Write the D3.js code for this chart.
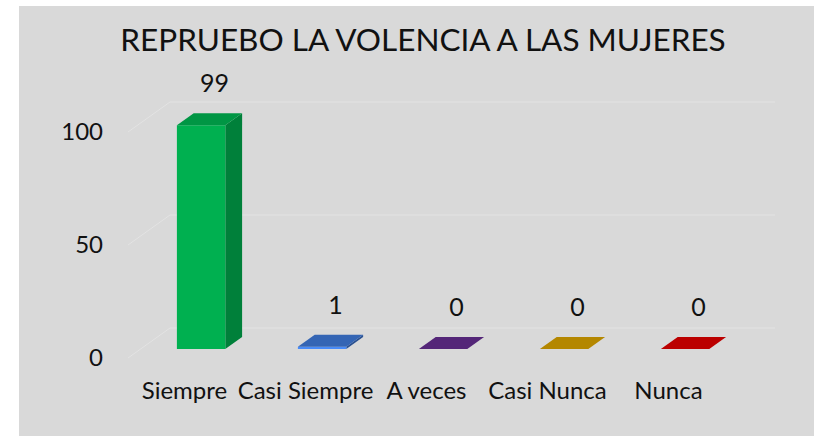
<html>

<head>
    <script src="https://d3js.org/d3.v7.min.js"></script>
    <style>
        body { margin: 0; background: #fff; }
        text { font-family: Lato, "Noto Sans", sans-serif; fill: #111; }
    </style>
</head>

<body>
    <svg id="chart" width="814" height="436"></svg>
    <script>
        var categories = ["Siempre", "Casi Siempre", "A veces", "Casi Nunca", "Nunca"];
        var values = [99, 1, 0, 0, 0];
        var colors = ["#00b050", "#3a70c8", "#5e2a86", "#c89600", "#d00000"];
        var yTicks = [0, 50, 100];
        var title = "REPRUEBO LA VOLENCIA A LAS MUJERES";

        var svg = d3.select("#chart");

        // depth of the 3d box and where the bars sit inside it
        var DX = 42, DY = -30;
        var t0 = 0.3, t1 = 0.7;

        svg.append("rect")
            .attr("x", 19).attr("y", 6)
            .attr("width", 795).attr("height", 430)
            .attr("fill", "#d9d9d9");

        var x = d3.scaleBand()
            .domain(categories)
            .range([128, 733])
            .paddingInner(0.6)
            .paddingOuter(0.3);

        var y = d3.scaleLinear()
            .domain([0, 100])
            .range([358, 132]);

        // gridlines on back wall + slanted floor edge
        var grid = svg.append("g");
        yTicks.forEach(function (v) {
            grid.append("line")
                .attr("x1", 128).attr("y1", y(v))
                .attr("x2", 128 + DX).attr("y2", y(v) + DY)
                .attr("stroke", "#e3e3e3").attr("stroke-width", 1);
            grid.append("line")
                .attr("x1", 128 + DX).attr("y1", y(v) + DY)
                .attr("x2", 775).attr("y2", y(v) + DY)
                .attr("stroke", "#e3e3e3").attr("stroke-width", 1);
        });

        // y axis labels
        svg.append("g").selectAll("text")
            .data(yTicks)
            .enter()
            .append("text")
            .attr("x", 103)
            .attr("y", (d) => y(d) + 2)
            .attr("text-anchor", "end")
            .attr("dominant-baseline", "middle")
            .style("font-size", "24px")
            .text((d) => d);

        function pts(arr) {
            return arr.map((p) => p[0].toFixed(1) + "," + p[1].toFixed(1)).join(" ");
        }

        var fx = DX * t0, fy = DY * t0;
        var bx = DX * (t1 - t0), by = DY * (t1 - t0);

        var bars = svg.append("g");
        categories.forEach(function (c, i) {
            var v = values[i];
            var x0 = x(c) + fx, x1 = x0 + x.bandwidth();
            var yb = y(0) + fy, yt = y(v) + fy;
            var base = d3.color(colors[i]);

            // side face
            bars.append("polygon")
                .attr("points", pts([[x1, yt], [x1 + bx, yt + by], [x1 + bx, yb + by], [x1, yb]]))
                .attr("fill", base.darker(0.9));
            // front face
            if (yb - yt > 0.5) {
                bars.append("polygon")
                    .attr("points", pts([[x0, yt], [x1, yt], [x1, yb], [x0, yb]]))
                    .attr("fill", v > 5 ? base : base.brighter(0.6));
            }
            // top face
            bars.append("polygon")
                .attr("points", pts([[x0, yt], [x0 + bx, yt + by], [x1 + bx, yt + by], [x1, yt]]))
                .attr("fill", base.darker(v > 5 ? 0.45 : 0.3));

            // value label
            svg.append("text")
                .attr("x", x0 + x.bandwidth() / 2 + bx / 2 + 5)
                .attr("y", yt + by - 21)
                .attr("text-anchor", "middle")
                .style("font-size", "25px")
                .text(v);
        });

        // category labels
        svg.append("g").selectAll("text")
            .data(categories)
            .enter()
            .append("text")
            .attr("x", (d) => x(d) + x.bandwidth() / 2 - 4)
            .attr("y", 399)
            .attr("text-anchor", "middle")
            .style("font-size", "24px")
            .text((d) => d);

        svg.append("text")
            .attr("x", 423)
            .attr("y", 51)
            .attr("text-anchor", "middle")
            .style("font-size", "31.5px")
            .text(title);
    </script>
</body>

</html>
